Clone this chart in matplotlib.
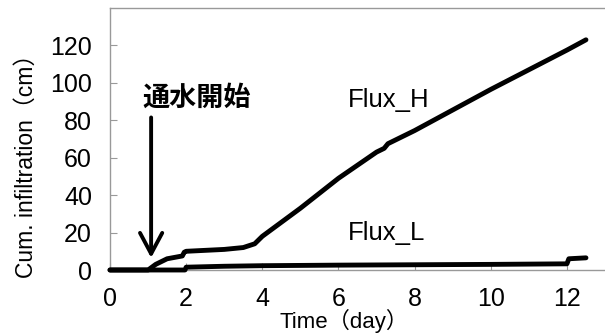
import matplotlib
matplotlib.use("Agg")
import matplotlib.pyplot as plt

plt.rcParams['font.family'] = ['Liberation Sans', 'Noto Sans CJK JP', 'DejaVu Sans']

# Cumulative infiltration, high-flux column
time_h = [0, 1.0, 1.2, 1.5, 1.9, 1.95, 2.0, 2.5, 3.0, 3.5, 3.8, 4.0, 5.0, 6.0,
          7.0, 7.2, 7.3, 8.0, 9.0, 10.0, 11.0, 12.0, 12.5]
flux_h = [0, 0, 3, 6, 7.5, 9.5, 10, 10.5, 11, 12, 14, 18, 33, 49,
          63, 65, 67.5, 74.5, 85.5, 96.5, 107, 117.5, 123]

# Cumulative infiltration, low-flux column
time_l = [0, 1.97, 2.0, 3.0, 4.0, 6.0, 8.0, 10.0, 12.0, 12.05, 12.5]
flux_l = [0, 0, 1.5, 2.0, 2.3, 2.6, 2.8, 3.0, 3.3, 6.0, 6.5]

x_ticks = [0, 2, 4, 6, 8, 10, 12]
y_ticks = [0, 20, 40, 60, 80, 100, 120]

fig = plt.figure(figsize=(6.05, 3.34), dpi=100)
ax = fig.add_axes([110 / 605, 1 - 270 / 334, 495 / 605, 262 / 334])

ax.plot(time_h, flux_h, color='black', lw=3.5, solid_capstyle='round', clip_on=False, zorder=3)
ax.plot(time_l, flux_l, color='black', lw=3.5, solid_capstyle='round', clip_on=False, zorder=3)

ax.set_xlim(0, 13)
ax.set_ylim(0, 140)
ax.set_xticks(x_ticks)
ax.set_yticks(y_ticks)
ax.tick_params(axis='both', direction='in', length=5, color='#999999', labelsize=18)
ax.tick_params(axis='x', pad=12)
ax.tick_params(axis='y', pad=13)

for side in ('top', 'left', 'bottom'):
    ax.spines[side].set_color('#999999')
    ax.spines[side].set_linewidth(1.0)
ax.spines['right'].set_visible(False)

ax.set_xlabel('Time（day）', fontsize=16)
ax.set_ylabel('Cum. infiltration（cm）', fontsize=16.5)
ax.xaxis.set_label_coords(0.472, -0.15)
ax.yaxis.set_label_coords(-0.146, 0.42)

ax.text(6.25, 90.7, 'Flux_H', fontsize=18.5, va='center', ha='left')
ax.text(6.25, 19.7, 'Flux_L', fontsize=18.5, va='center', ha='left')

ax.annotate('', xy=(1.08, 5), xytext=(1.08, 83),
            arrowprops=dict(arrowstyle='->, head_length=0.75, head_width=0.4',
                            mutation_scale=20, lw=2.8, color='black'))
ax.text(0.84, 92, '通水開始', fontsize=19.5, fontweight='bold',
        family=['Noto Sans CJK JP'], va='center', ha='left')

fig.savefig('out.png', dpi=100)
